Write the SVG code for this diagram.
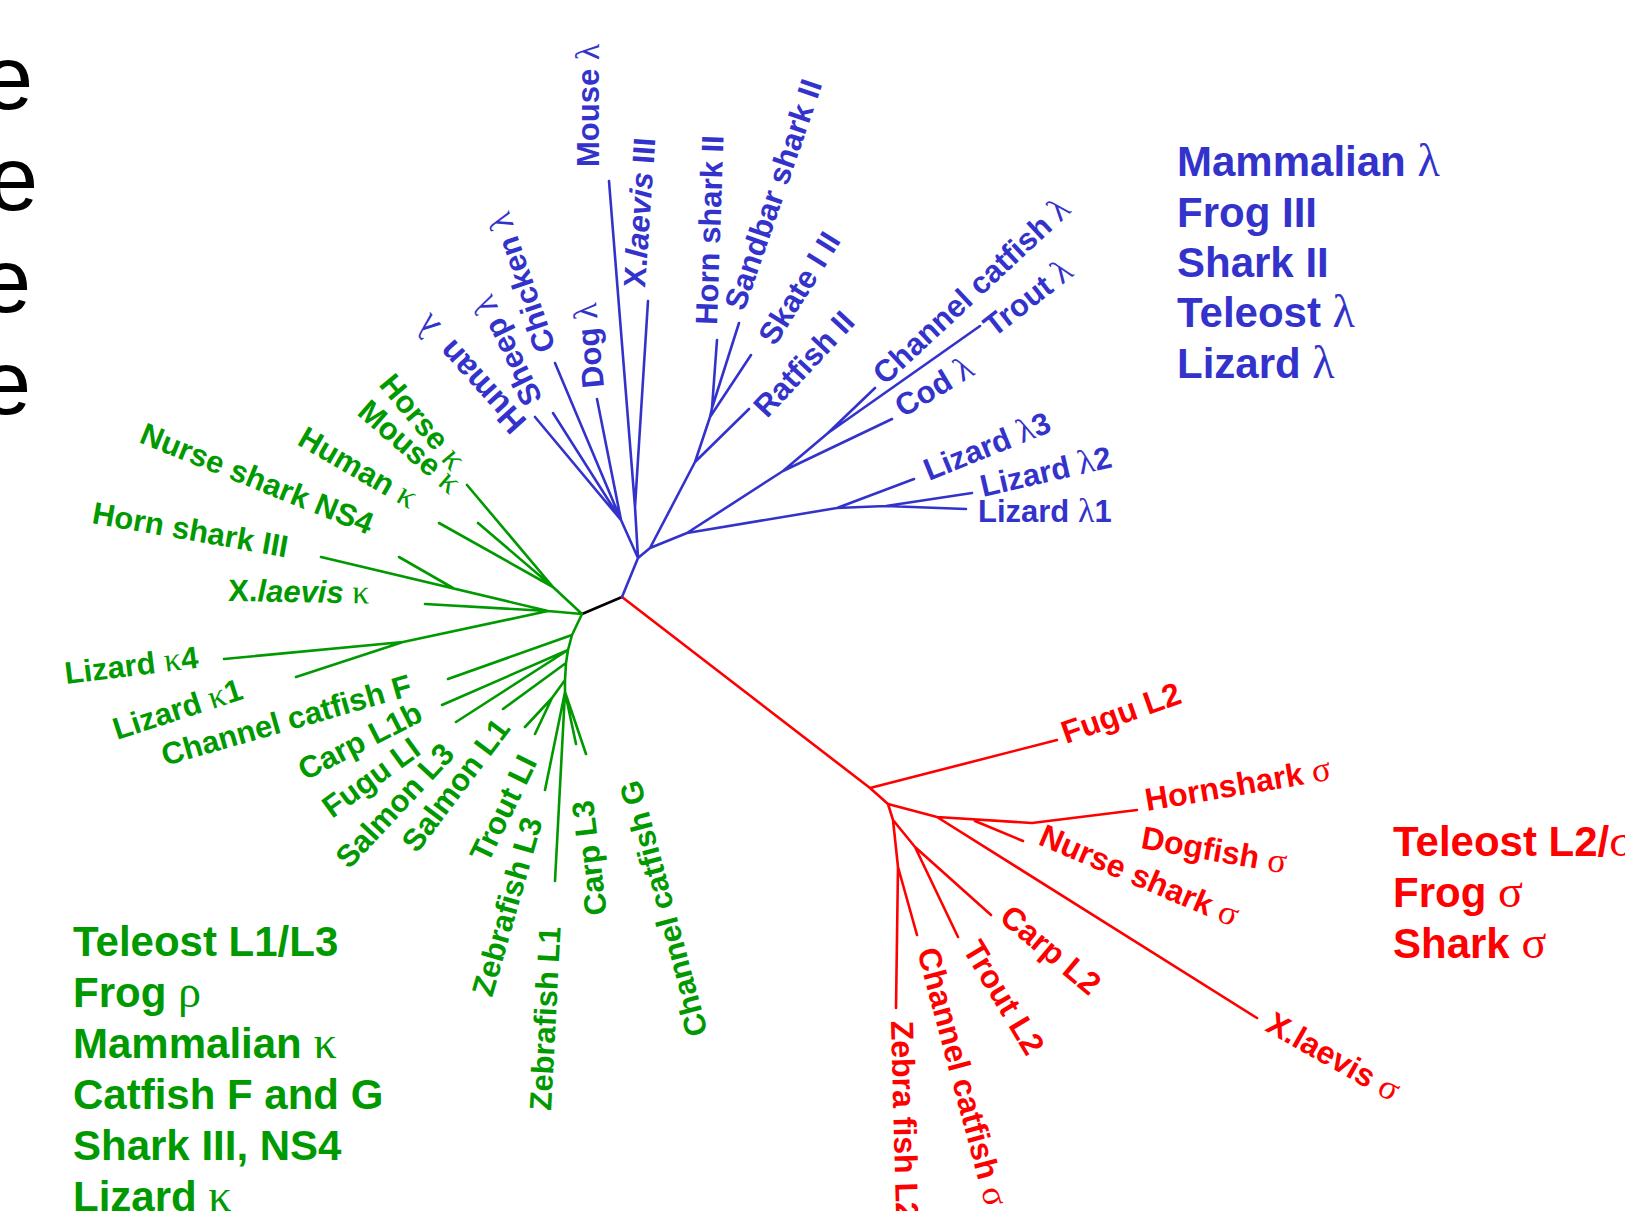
<svg xmlns="http://www.w3.org/2000/svg" width="1625" height="1211" viewBox="0 0 1625 1211">
<style>
text{font-family:"Liberation Sans",Arial,sans-serif;font-weight:bold;font-size:31px}
.gk{font-family:"Liberation Serif","Times New Roman",serif;font-weight:normal;font-size:1.1em}
.it{font-style:italic}
.lg{font-size:42px}
.rl{font-size:32px}
.b{fill:#3333cc}.g{fill:#009900}.r{fill:#ff0000}
.e{font-weight:normal;font-size:90px;fill:#000}
.cb{stroke:#3333cc}.cg{stroke:#009900}.cr{stroke:#ff0000}.ck{stroke:#000;stroke-width:3.3}
#connectors path{fill:none;stroke-width:2.6;stroke-linecap:round;stroke-linejoin:round}
</style>
<rect width="1625" height="1211" fill="#fff"/>
<g id="marks">
<text class="e" x="-17" y="109">e</text>
<text class="e" x="-12" y="210">e</text>
<text class="e" x="-19" y="312">e</text>
<text class="e" x="-19" y="414">e</text>
</g>
<g id="connectors">
<path class="ck" d="M582,614 L622,597"/>
<path class="cr" d="M622,597 L870,788 M870,788 L1057,740 M870,788 L888,804 L937,817 L1032,823 L1137,810 M975,821 L1023,841 M937,817 L1257,1018 M888,804 L893,820 L915,847 L991,915 M915,847 L958,937 M893,820 L898,867 L896,1008 M898,867 L917,935"/>
<path class="cb" d="M622,597 L638,558 L621,520 L535,417 M621,520 L553,413 M621,520 L555,363 M621,520 L597,399 M638,558 L635,507 L609,181 M635,507 L648,301 M638,558 L650,548 L695,462 L749,409 M695,462 L710,417 L751,355 M710,417 L712,408 L717,340 M712,408 L739,323 M650,548 L687,533 L783,471 L892,419 M783,471 L828,433 L875,388 M828,433 L980,326 M687,533 L837,508 L914,479 M837,508 L886,506 L972,493 M886,506 L966,509"/>
<path class="cg" d="M582,614 L553,587 L467,485 M553,587 L478,523 M553,587 L439,523 M582,614 L548,611 L321,557 M453,588 L399,557 M548,611 L425,604 M548,611 L403,642 L224,659 M403,642 L296,677 M582,614 L572,635 L448,679 M572,635 L568,650 L442,705 M568,650 L456,722 M568,650 L566,663 L503,709 M566,663 L565,680 L552,698 L525,727 M552,698 L535,734 M565,680 L565,692 L545,790 M565,692 L555,881 M565,692 L576,744 M565,692 L586,754"/>
</g>
<g id="n-mouse-l"><text class="b" transform="translate(599,167) rotate(-90)">Mouse <tspan class="gk">λ</tspan></text></g>
<g id="n-xlaevis-iii"><text class="b" transform="translate(645,288) rotate(-86)">X.<tspan class="it">laevis</tspan> III</text></g>
<g id="n-hornshark-ii"><text class="b" transform="translate(717,325) rotate(-88)">Horn shark II</text></g>
<g id="n-sandbar"><text class="b" transform="translate(744,312) rotate(-71)">Sandbar shark II</text></g>
<g id="n-skate"><text class="b" transform="translate(775,347) rotate(-58)">Skate I II</text></g>
<g id="n-ratfish"><text class="b" transform="translate(767,419) rotate(-47)">Ratfish II</text></g>
<g id="n-catfish-l"><text class="b" transform="translate(885,386) rotate(-43)">Channel catfish <tspan class="gk">λ</tspan></text></g>
<g id="n-trout-l"><text class="b" transform="translate(994,338) rotate(-38)">Trout <tspan class="gk">λ</tspan></text></g>
<g id="n-cod-l"><text class="b" transform="translate(903,418) rotate(-31)">Cod <tspan class="gk">λ</tspan></text></g>
<g id="n-lizard-l3"><text class="b" transform="translate(929,481) rotate(-22)">Lizard <tspan class="gk">λ</tspan>3</text></g>
<g id="n-lizard-l2"><text class="b" transform="translate(983,497) rotate(-13)">Lizard <tspan class="gk">λ</tspan>2</text></g>
<g id="n-lizard-l1"><text class="b" transform="translate(978,522)">Lizard <tspan class="gk">λ</tspan>1</text></g>
<g id="n-dog-l"><text class="b" transform="translate(604,387) rotate(-95.5)">Dog <tspan class="gk">λ</tspan></text></g>
<g id="n-chicken-l"><text class="b" transform="translate(556,348) rotate(-109)">Chicken <tspan class="gk">λ</tspan></text></g>
<g id="n-sheep-l"><text class="b" transform="translate(543,399) rotate(-116)">Sheep <tspan class="gk">λ</tspan></text></g>
<g id="n-human-l"><text class="b" transform="translate(528,421) rotate(-132)" style="font-size:33px">Human <tspan class="gk" dx="8">λ</tspan></text></g>
<g id="n-horse-k"><text class="g" transform="translate(378,385) rotate(50)">Horse <tspan class="gk">κ</tspan></text></g>
<g id="n-mouse-k"><text class="g" transform="translate(356,414) rotate(41)">Mouse <tspan class="gk">κ</tspan></text></g>
<g id="n-human-k"><text class="g" transform="translate(296,444) rotate(30)">Human <tspan class="gk">κ</tspan></text></g>
<g id="n-ns4"><text class="g" transform="translate(138,442) rotate(22)">Nurse shark NS4</text></g>
<g id="n-hornshark-iii"><text class="g" transform="translate(91,523) rotate(10)">Horn shark III</text></g>
<g id="n-xlaevis-k"><text class="g" transform="translate(228,601) rotate(1)">X.<tspan class="it">laevis</tspan> <tspan class="gk">κ</tspan></text></g>
<g id="n-lizard-k4"><text class="g" transform="translate(66,684) rotate(-7)">Lizard <tspan class="gk">κ</tspan>4</text></g>
<g id="n-lizard-k1"><text class="g" transform="translate(117,740) rotate(-18)">Lizard <tspan class="gk">κ</tspan>1</text></g>
<g id="n-catfish-f"><text class="g" transform="translate(165,766) rotate(-16)">Channel catfish F</text></g>
<g id="n-carp-l1b"><text class="g" transform="translate(305,781) rotate(-27)">Carp L1b</text></g>
<g id="n-fugu-li"><text class="g" transform="translate(332,819) rotate(-36)">Fugu LI</text></g>
<g id="n-salmon-l3"><text class="g" transform="translate(349,870) rotate(-47)">Salmon L3</text></g>
<g id="n-salmon-l1"><text class="g" transform="translate(417,854) rotate(-53)">Salmon L1</text></g>
<g id="n-trout-li"><text class="g" transform="translate(488,864) rotate(-64)">Trout LI</text></g>
<g id="n-zebra-l3"><text class="g" transform="translate(492,998) rotate(-74)">Zebrafish L3</text></g>
<g id="n-zebra-l1"><text class="g" transform="translate(551,1111) rotate(-87)">Zebrafish L1</text></g>
<g id="n-carp-l3"><text class="g" transform="translate(607,914) rotate(-97)">Carp L3</text></g>
<g id="n-catfish-g"><text class="g" transform="translate(708,1033) rotate(-105)">Channel catfish G</text></g>
<g id="n-fugu-l2"><text class="r rl" transform="translate(1066,744) rotate(-19.5)">Fugu L2</text></g>
<g id="n-hornshark-s"><text class="r rl" transform="translate(1147,811) rotate(-9.6)">Hornshark <tspan class="gk">σ</tspan></text></g>
<g id="n-dogfish-s"><text class="r rl" transform="translate(1140,848) rotate(10)">Dogfish <tspan class="gk">σ</tspan></text></g>
<g id="n-nurse-s"><text class="r rl" transform="translate(1037,844) rotate(23)">Nurse shark <tspan class="gk">σ</tspan></text></g>
<g id="n-carp-l2"><text class="r rl" transform="translate(998,920) rotate(40)">Carp L2</text></g>
<g id="n-trout-l2"><text class="r rl" transform="translate(962,949) rotate(59)">Trout L2</text></g>
<g id="n-catfish-s"><text class="r rl" transform="translate(917,951) rotate(75)">Channel catfish <tspan class="gk">σ</tspan></text></g>
<g id="n-zebra-l2"><text class="r rl" transform="translate(891,1021) rotate(88.5)">Zebra fish L2</text></g>
<g id="n-xlaevis-s"><text class="r rl" transform="translate(1264,1030) rotate(29.5)">X.laevis <tspan class="gk">σ</tspan></text></g>
<g id="legend-lambda">
<text class="b lg" x="1177" y="176">Mammalian <tspan class="gk">λ</tspan></text>
<text class="b lg" x="1177" y="227">Frog III</text>
<text class="b lg" x="1177" y="277">Shark II</text>
<text class="b lg" x="1177" y="327">Teleost <tspan class="gk">λ</tspan></text>
<text class="b lg" x="1177" y="378">Lizard <tspan class="gk">λ</tspan></text>
</g>
<g id="legend-kappa">
<text class="g lg" x="73" y="956">Teleost L1/L3</text>
<text class="g lg" x="73" y="1007">Frog <tspan class="gk">ρ</tspan></text>
<text class="g lg" x="73" y="1058">Mammalian <tspan class="gk">κ</tspan></text>
<text class="g lg" x="73" y="1109">Catfish F and G</text>
<text class="g lg" x="73" y="1160">Shark III, NS4</text>
<text class="g lg" x="73" y="1211">Lizard <tspan class="gk">κ</tspan></text>
</g>
<g id="legend-sigma">
<text class="r lg" x="1393" y="856">Teleost L2/<tspan class="gk">σ</tspan></text>
<text class="r lg" x="1393" y="907">Frog <tspan class="gk">σ</tspan></text>
<text class="r lg" x="1393" y="958">Shark <tspan class="gk">σ</tspan></text>
</g>
</svg>
